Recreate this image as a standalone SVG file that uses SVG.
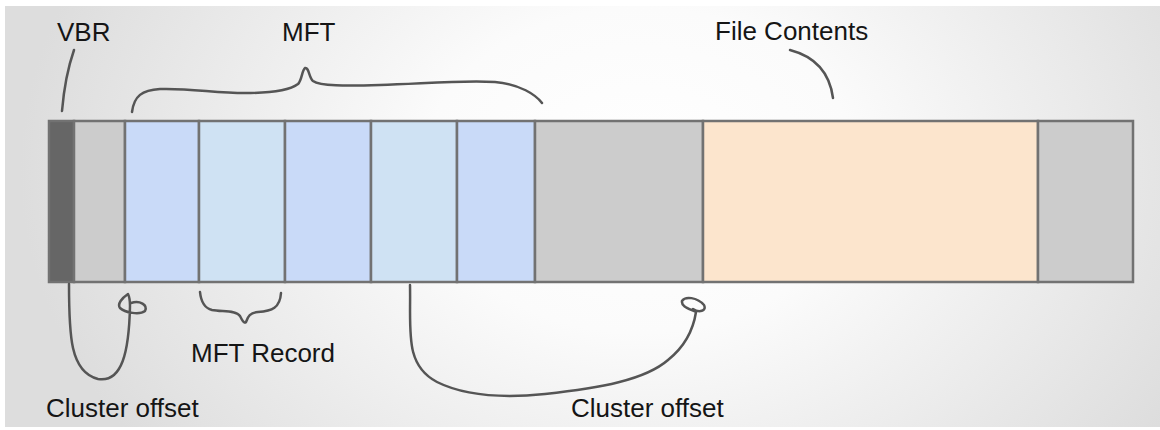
<svg xmlns="http://www.w3.org/2000/svg" width="1160" height="430" viewBox="0 0 1160 430">
  <defs>
    <radialGradient id="bg" gradientUnits="userSpaceOnUse" cx="640" cy="170" r="620" gradientTransform="translate(640 170) scale(1 0.75) translate(-640 -170)">
      <stop offset="0" stop-color="#ffffff"/>
      <stop offset="0.35" stop-color="#fbfbfb"/>
      <stop offset="1" stop-color="#dddddd"/>
    </radialGradient>
    <style>
      .cell { stroke: #727272; stroke-width: 2.5; }
      .vbr { fill: #666666; }
      .gray { fill: #cccccc; }
      .blue { fill: #c9daf8; }
      .lblue { fill: #cfe2f3; }
      .peach { fill: #fce5cd; }
      .label { font-family: "Liberation Sans", Arial, sans-serif; font-size: 26px; fill: #151515; }
      .stroke { fill: none; stroke: #555555; stroke-width: 2.5; stroke-linecap: round; stroke-linejoin: round; }
    </style>
  </defs>

  <!-- backdrop -->
  <rect x="0" y="0" width="1160" height="430" fill="#ffffff"/>
  <rect x="5" y="6" width="1155" height="421" fill="url(#bg)"/>

  <!-- disk layout bar -->
  <g id="vbr"><rect class="cell vbr" x="49" y="121" width="25" height="161"/></g>
  <g id="reserved"><rect class="cell gray" x="74" y="121" width="51" height="161"/></g>
  <g id="mft-record-1"><rect class="cell blue" x="125" y="121" width="74" height="161"/></g>
  <g id="mft-record-2"><rect class="cell lblue" x="199" y="121" width="86" height="161"/></g>
  <g id="mft-record-3"><rect class="cell blue" x="285" y="121" width="86" height="161"/></g>
  <g id="mft-record-4"><rect class="cell lblue" x="371" y="121" width="86" height="161"/></g>
  <g id="mft-record-5"><rect class="cell blue" x="457" y="121" width="78" height="161"/></g>
  <g id="free-space"><rect class="cell gray" x="535" y="121" width="168" height="161"/></g>
  <g id="file-contents"><rect class="cell peach" x="703" y="121" width="335" height="161"/></g>
  <g id="tail"><rect class="cell gray" x="1038" y="121" width="95" height="161"/></g>

  <!-- labels -->
  <g id="labels">
    <text class="label" x="57" y="41">VBR</text>
    <text class="label" x="282" y="41">MFT</text>
    <text class="label" x="715" y="40">File Contents</text>
    <text class="label" x="191" y="362">MFT Record</text>
    <text class="label" x="46" y="417">Cluster offset</text>
    <text class="label" x="571" y="417">Cluster offset</text>
  </g>

  <!-- hand-drawn pointers, braces and offset arrows -->
  <g id="connectors">
    <path class="stroke" d="M62,111 Q65,76 74,50"/>
    <path class="stroke" d="M132,112 C134,96 142,90 160,89 C190,88 215,93 245,93 C270,93 290,90 298,84 C302,80 302,70 305,68 C309,67 309,78 313,81 C320,86 345,86 380,85 C420,84 460,80 495,82 C520,84 536,95 542,103"/>
    <path class="stroke" d="M790,50 Q828,60 833,98"/>
    <path class="stroke" d="M200,292 C201,302 204,308 212,310 C222,312 236,310 240,316 C242,320 244,324 246,322 C248,316 250,313 258,312 C272,311 280,308 281,293"/>
    <path class="stroke" d="M69,284 C69,335 70,372 98,379 C122,383 129,352 130,306 C130,300 129,296 128,294 C122,298 117,304 120,308 C125,313 140,315 145,311 C148,305 140,300 131,303"/>
    <path class="stroke" d="M410,285 C411,330 404,365 437,382 C465,396 505,398 545,394 C600,388 645,380 668,360 C688,344 694,325 696,312 C690,309 681,307 682,301 C685,296 697,297 704,305 C707,311 699,313 693,309"/>
  </g>
</svg>
